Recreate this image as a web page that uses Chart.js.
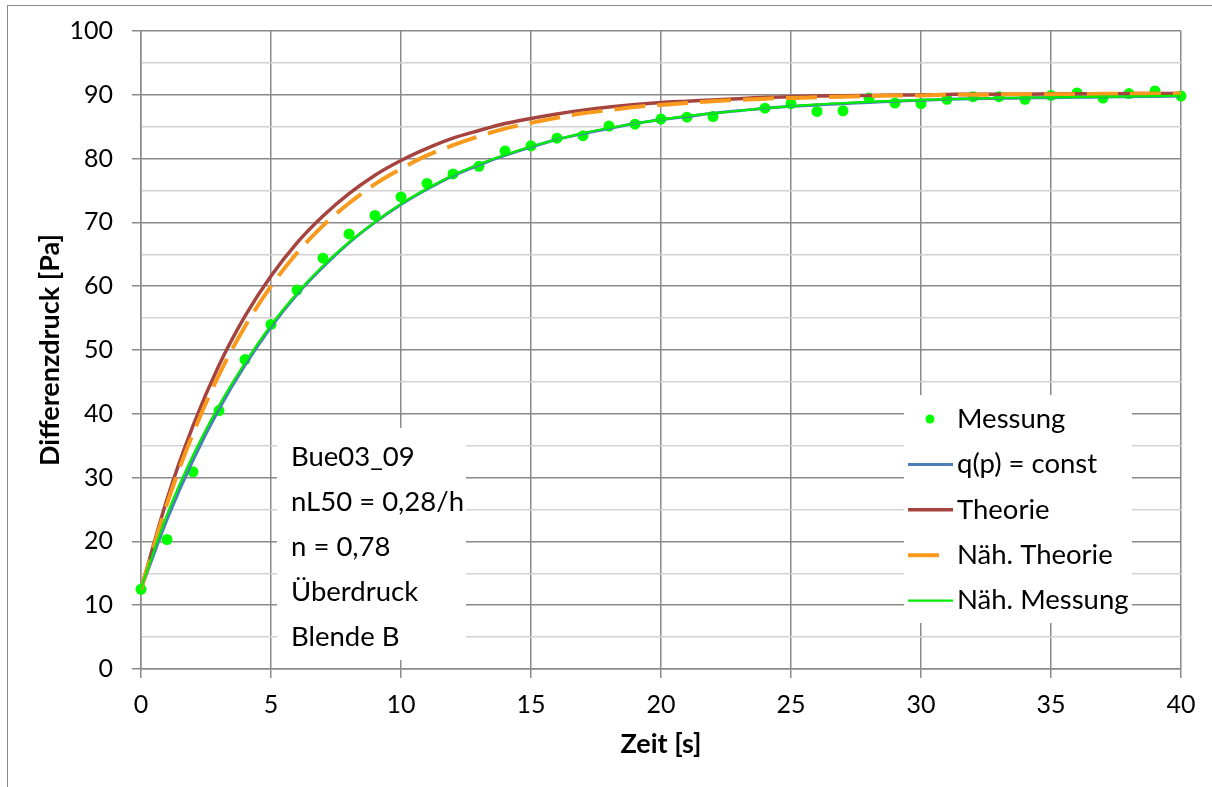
<!DOCTYPE html>
<html>
<head>
<meta charset="utf-8">
<script src="https://cdn.jsdelivr.net/npm/chart.js@4.4.1/dist/chart.umd.min.js"></script>
<style>
  body { margin: 0; background: #fff; overflow: hidden; }
  #wrap { position: relative; width: 1212px; height: 787px; }
  #frame { position: absolute; left: 7px; top: 5px; width: 1230px; height: 800px;
           border: 1.5px solid #8a8a8a; pointer-events: none; }
  canvas { position: absolute; left: 0; top: 0; }
</style>
</head>
<body>
<div id="wrap">
  <canvas id="druckChart" width="1212" height="787"></canvas>
  <div id="frame"></div>
</div>
<script>
// Messwerte (Zeit in s, Differenzdruck in Pa) - bei t = 23 s fehlt der Messpunkt
const messZeit = [0, 1, 2, 3, 4, 5, 6, 7, 8, 9, 10, 11, 12, 13, 14, 15, 16, 17, 18, 19, 20,
  21, 22, 24, 25, 26, 27, 28, 29, 30, 31, 32, 33, 34, 35, 36, 37, 38, 39, 40];
const messung = [12.5, 20.3, 30.9, 40.5, 48.5, 54.0, 59.4, 64.4, 68.2, 71.1, 74.0,
  76.1, 77.6, 78.8, 81.2, 82.0, 83.2, 83.6, 85.1, 85.4, 86.2,
  86.5, 86.6, 87.9, 88.6, 87.4, 87.5, 89.5, 88.7, 88.6, 89.3, 89.7, 89.7, 89.3, 89.9,
  90.3, 89.5, 90.2, 90.6, 89.8];

// Kurven, jeweils im Sekundentakt 0 .. 40 s
const kurvenZeit = [0, 1, 2, 3, 4, 5, 6, 7, 8, 9, 10, 11, 12, 13, 14, 15, 16, 17, 18, 19, 20,
  21, 22, 23, 24, 25, 26, 27, 28, 29, 30, 31, 32, 33, 34, 35, 36, 37, 38, 39, 40];
const qConst = [12.5, 23.4, 32.7, 40.7, 47.6, 53.6, 58.7, 63.0, 66.8, 70.0, 72.8,
  75.2, 77.3, 79.0, 80.5, 81.8, 83.0, 83.9, 84.7, 85.5, 86.1,
  86.6, 87.1, 87.5, 87.9, 88.2, 88.4, 88.6, 88.8, 89.0, 89.15,
  89.3, 89.4, 89.45, 89.5, 89.55, 89.6, 89.65, 89.7, 89.75, 89.8];
const theorie = [12.5, 26.6, 38.1, 47.6, 55.3, 61.6, 66.8, 71.0, 74.5, 77.4, 79.7,
  81.6, 83.2, 84.4, 85.5, 86.3, 87.0, 87.6, 88.1, 88.5, 88.8,
  89.0, 89.2, 89.4, 89.6, 89.7, 89.8, 89.85, 89.9, 89.95, 90.0,
  90.05, 90.1, 90.1, 90.1, 90.15, 90.15, 90.15, 90.2, 90.2, 90.2];
const naehTheorie = [12.5, 25.9, 36.9, 46.1, 53.7, 60.0, 65.2, 69.5, 73.0, 76.0, 78.4,
  80.5, 82.1, 83.5, 84.7, 85.6, 86.4, 87.1, 87.6, 88.1, 88.4,
  88.7, 89.0, 89.2, 89.4, 89.5, 89.6, 89.7, 89.8, 89.9, 89.9,
  90.0, 90.0, 90.05, 90.1, 90.1, 90.1, 90.15, 90.15, 90.15, 90.2];
const naehMessung = [12.7, 24.2, 33.5, 41.3, 48.0, 53.9, 58.9, 63.2, 66.9, 70.1, 72.9,
  75.3, 77.4, 79.1, 80.6, 81.9, 83.0, 84.0, 84.8, 85.5, 86.1,
  86.7, 87.1, 87.5, 87.9, 88.2, 88.5, 88.7, 88.9, 89.05, 89.2,
  89.3, 89.4, 89.5, 89.55, 89.6, 89.65, 89.7, 89.75, 89.8, 89.85];

const xTicks = [0, 5, 10, 15, 20, 25, 30, 35, 40];
const yTicks = [0, 10, 20, 30, 40, 50, 60, 70, 80, 90, 100];
const infoZeilen = ['Bue03_09', 'nL50 = 0,28/h', 'n = 0,78', 'Überdruck', 'Blende B'];

const FONT = 'Lato, "Open Sans", sans-serif';
const GRID_MAJOR = '#8a8a8a';
const GRID_MINOR = '#d2d2d2';

const pts = (xs, ys) => xs.map((x, i) => ({ x: x, y: ys[i] }));

// weisse Kaesten fuer Infotext und Legende, ueber dem Gitter, unter den Kurven
const kaesten = {
  id: 'kaesten',
  beforeDatasetsDraw(chart, args, opts) {
    const ctx = chart.ctx;
    ctx.save();
    ctx.fillStyle = '#fff';
    const n = opts.info, l = opts.legende;
    ctx.fillRect(n.x, n.y, n.w, n.h);
    ctx.fillRect(l.x, l.y, l.w, l.h);

    ctx.font = opts.font;
    ctx.textBaseline = 'middle';
    ctx.fillStyle = '#000';
    infoZeilen.forEach((t, i) => ctx.fillText(t, n.textX, n.y0 + i * n.step));

    chart.data.datasets.forEach((ds, i) => {
      const y = l.y0 + i * l.step;
      if (ds.showLine === false) {
        ctx.beginPath();
        ctx.fillStyle = ds.pointBackgroundColor;
        ctx.arc(l.symX + 22, y, 4.5, 0, Math.PI * 2);
        ctx.fill();
      } else {
        // gestrichelte Linie: nur der erste Strich passt ins Symbol
        const len = ds.borderDash ? ds.borderDash[0] : 45;
        ctx.beginPath();
        ctx.strokeStyle = ds.borderColor;
        ctx.lineWidth = ds.borderWidth;
        ctx.moveTo(l.symX, y);
        ctx.lineTo(l.symX + len, y);
        ctx.stroke();
      }
      ctx.fillStyle = '#000';
      ctx.fillText(ds.label, l.textX, y);
    });
    ctx.restore();
  }
};

new Chart(document.getElementById('druckChart'), {
  type: 'line',
  data: {
    datasets: [
      {
        label: 'Messung',
        data: pts(messZeit, messung),
        showLine: false,
        pointRadius: 5.5,
        pointBorderWidth: 0,
        pointBackgroundColor: '#00ff00',
        borderColor: '#00ff00',
        clip: false,
        order: 4
      },
      {
        label: 'q(p) = const',
        data: pts(kurvenZeit, qConst),
        borderColor: '#4a7ebb',
        borderWidth: 3,
        pointRadius: 0,
        cubicInterpolationMode: 'monotone',
        order: 3
      },
      {
        label: 'Theorie',
        data: pts(kurvenZeit, theorie),
        borderColor: '#a5443f',
        borderWidth: 3.5,
        pointRadius: 0,
        cubicInterpolationMode: 'monotone',
        order: 2
      },
      {
        label: 'Näh. Theorie',
        data: pts(kurvenZeit, naehTheorie),
        borderColor: '#f99a1c',
        borderWidth: 4,
        borderDash: [31, 12],
        pointRadius: 0,
        cubicInterpolationMode: 'monotone',
        order: 1
      },
      {
        label: 'Näh. Messung',
        data: pts(kurvenZeit, naehMessung),
        borderColor: '#00ee00',
        borderWidth: 2.2,
        pointRadius: 0,
        cubicInterpolationMode: 'monotone',
        order: 0
      }
    ]
  },
  options: {
    responsive: false,
    animation: false,
    layout: { padding: { left: 7, top: 31, right: 31, bottom: 0 } },
    plugins: {
      legend: { display: false },
      tooltip: { enabled: false },
      kaesten: {
        font: '27.5px ' + FONT,
        info: { x: 277, y: 428, w: 189, h: 232, textX: 291, y0: 457, step: 45 },
        legende: { x: 904, y: 395, w: 228, h: 228, symX: 908, textX: 957, y0: 419, step: 45.4 }
      }
    },
    scales: {
      x: {
        type: 'linear',
        min: 0,
        max: 40,
        afterBuildTicks: s => { s.ticks = xTicks.map(v => ({ value: v })); },
        afterFit: s => { s.height = 118; },
        ticks: { font: { family: FONT, size: 25 }, color: '#000', padding: 12, maxRotation: 0 },
        grid: { color: GRID_MAJOR, lineWidth: 1.5, tickLength: 9, tickColor: GRID_MAJOR },
        border: { color: GRID_MAJOR, width: 1.5 },
        title: {
          display: true,
          text: 'Zeit [s]',
          color: '#000',
          font: { family: FONT, size: 27, weight: 'bold' },
          padding: { top: 0, bottom: 27 }
        }
      },
      y: {
        min: 0,
        max: 100,
        afterBuildTicks: s => {
          const t = [];
          for (let i = 0; i < yTicks.length - 1; i++) {
            t.push({ value: yTicks[i] }, { value: (yTicks[i] + yTicks[i + 1]) / 2 });
          }
          t.push({ value: yTicks[yTicks.length - 1] });
          s.ticks = t;
        },
        afterFit: s => {
          s.width = 134;
          // oberer Rand kommt allein aus layout.padding
          s.paddingTop = 0;
          s.paddingBottom = 0;
        },
        ticks: {
          autoSkip: false,
          font: { family: FONT, size: 25 },
          color: '#000',
          padding: 19,
          callback: v => (yTicks.includes(v) ? v : '')
        },
        grid: {
          color: c => (yTicks.includes(c.tick.value) ? GRID_MAJOR : GRID_MINOR),
          tickColor: c => (yTicks.includes(c.tick.value) ? GRID_MAJOR : 'rgba(0,0,0,0)'),
          lineWidth: 1.5,
          tickLength: 9
        },
        border: { color: GRID_MAJOR, width: 1.5 },
        title: {
          display: true,
          text: 'Differenzdruck [Pa]',
          color: '#000',
          font: { family: FONT, size: 27, weight: 'bold' },
          padding: { top: 27, bottom: 0 }
        }
      }
    }
  },
  plugins: [kaesten]
});
</script>
</body>
</html>
